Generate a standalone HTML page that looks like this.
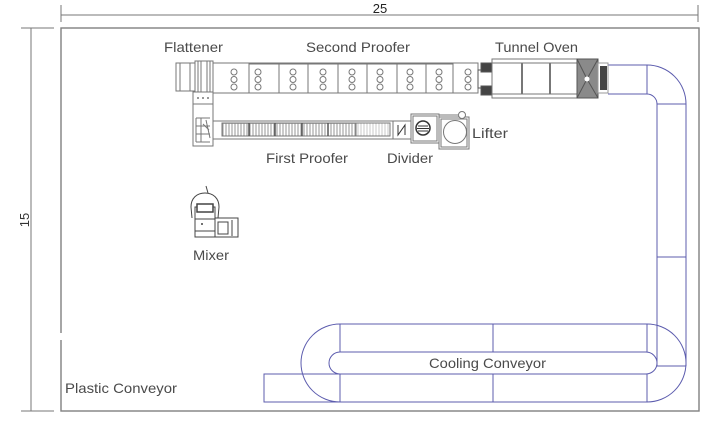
<!DOCTYPE html>
<html><head><meta charset="utf-8"><style>
html,body{margin:0;padding:0;background:#fff;}
svg{display:block;}
text{font-family:"Liberation Sans",sans-serif;fill:#4a4a4a;font-size:14px;}
</style></head><body>
<svg width="712" height="421" viewBox="0 0 712 421" xmlns="http://www.w3.org/2000/svg">
<defs>
<pattern id="grid" x="0" y="0" width="3" height="13" patternUnits="userSpaceOnUse">
<rect width="3" height="13" fill="#fff"/>
<line x1="1" y1="0" x2="1" y2="13" stroke="#888" stroke-width="0.9"/>
<line x1="0" y1="6.5" x2="3" y2="6.5" stroke="#999" stroke-width="0.6"/>
</pattern>
<pattern id="grid2" x="0" y="0" width="3" height="13" patternUnits="userSpaceOnUse">
<rect width="3" height="13" fill="#fff"/>
<line x1="1" y1="0" x2="1" y2="13" stroke="#bbb" stroke-width="0.8"/>
</pattern>
</defs>
<rect width="712" height="421" fill="#fff"/>

<!-- dimensions -->
<g stroke="#777" stroke-width="1" fill="none">
<line x1="61" y1="15" x2="698" y2="15"/>
<line x1="61" y1="5" x2="61" y2="22"/>
<line x1="698" y1="5" x2="698" y2="22"/>
<line x1="31" y1="28" x2="31" y2="411"/>
<line x1="21" y1="28" x2="54" y2="28"/>
<line x1="21" y1="411" x2="54" y2="411"/>
</g>
<text x="380" y="13" text-anchor="middle" style="font-size:13px;fill:#222">25</text>
<text transform="translate(29,220) rotate(-90)" text-anchor="middle" style="font-size:13px;fill:#333">15</text>

<!-- frame -->
<rect x="61" y="28" width="638" height="383" fill="none" stroke="#808080" stroke-width="1.4"/>
<line x1="61" y1="333" x2="61" y2="340" stroke="#fff" stroke-width="2"/>

<!-- conveyors (blue) -->
<g stroke="#5c5cae" stroke-width="1" fill="none">
<line x1="608" y1="65" x2="647" y2="65"/>
<line x1="608" y1="94" x2="647" y2="94"/>
<line x1="647" y1="65" x2="647" y2="94"/>
<path d="M647,65 A39,39 0 0 1 686,104"/>
<path d="M647,94 A10,10 0 0 1 657,104"/>
<line x1="657" y1="104" x2="686" y2="104"/>
<line x1="657" y1="104" x2="657" y2="366"/>
<line x1="686" y1="104" x2="686" y2="366"/>
<line x1="657" y1="257" x2="686" y2="257"/>
<line x1="657" y1="366" x2="686" y2="366"/>
<path d="M340,324 L647,324 A39,39 0 0 1 647,402 L340,402 A39,39 0 0 1 340,324 Z"/>
<rect x="329" y="352" width="328" height="22" rx="11" ry="11" fill="#fff"/>
<line x1="340" y1="324" x2="340" y2="352"/><line x1="340" y1="374" x2="340" y2="402"/>
<line x1="493" y1="324" x2="493" y2="352"/><line x1="493" y1="374" x2="493" y2="402"/>
<line x1="647" y1="324" x2="647" y2="352"/><line x1="647" y1="374" x2="647" y2="402"/>
<rect x="264" y="374" width="76" height="28"/>
</g>

<!-- equipment -->
<g stroke="#777" stroke-width="1" fill="none">
<rect x="213" y="63" width="265" height="30" fill="#fff"/>
<rect x="176" y="63" width="19" height="28" fill="#fff"/>
<line x1="180" y1="63" x2="180" y2="91"/>
<line x1="190" y1="63" x2="190" y2="91"/>
<rect x="195" y="61" width="18" height="31" fill="#fff"/>
<line x1="198" y1="61" x2="198" y2="92"/>
<line x1="201" y1="61" x2="201" y2="92"/>
<line x1="207" y1="61" x2="207" y2="92"/>
<line x1="210" y1="61" x2="210" y2="92"/>
<rect x="193" y="92" width="20" height="54" fill="#fff"/>
<line x1="193" y1="104" x2="213" y2="104"/>
<line x1="196" y1="118" x2="210" y2="118"/>
<line x1="196" y1="118" x2="196" y2="142"/>
<line x1="196" y1="142" x2="210" y2="142"/>
<line x1="196" y1="126" x2="210" y2="126"/>
<line x1="196" y1="134" x2="210" y2="134"/>
<line x1="201" y1="118" x2="201" y2="142"/>
<line x1="206" y1="120" x2="210" y2="138"/>
<line x1="203" y1="124" x2="209" y2="130"/>
<rect x="249" y="64" width="204" height="29"/>
<line x1="279" y1="64" x2="279" y2="93"/>
<line x1="308" y1="64" x2="308" y2="93"/>
<line x1="338" y1="64" x2="338" y2="93"/>
<line x1="367" y1="64" x2="367" y2="93"/>
<line x1="397" y1="64" x2="397" y2="93"/>
<line x1="426" y1="64" x2="426" y2="93"/>
</g>
<g fill="#777">
<circle cx="198" cy="98" r="1"/><circle cx="203" cy="98" r="1"/><circle cx="208" cy="98" r="1"/>
</g>
<g stroke="#777" stroke-width="1" fill="#fff">
<circle cx="234" cy="72" r="3"/><circle cx="234" cy="79.5" r="3"/><circle cx="234" cy="87" r="3"/>
<circle cx="258" cy="72" r="3"/><circle cx="258" cy="79.5" r="3"/><circle cx="258" cy="87" r="3"/>
<circle cx="293" cy="72" r="3"/><circle cx="293" cy="79.5" r="3"/><circle cx="293" cy="87" r="3"/>
<circle cx="323" cy="72" r="3"/><circle cx="323" cy="79.5" r="3"/><circle cx="323" cy="87" r="3"/>
<circle cx="352" cy="72" r="3"/><circle cx="352" cy="79.5" r="3"/><circle cx="352" cy="87" r="3"/>
<circle cx="380" cy="72" r="3"/><circle cx="380" cy="79.5" r="3"/><circle cx="380" cy="87" r="3"/>
<circle cx="410" cy="72" r="3"/><circle cx="410" cy="79.5" r="3"/><circle cx="410" cy="87" r="3"/>
<circle cx="439" cy="72" r="3"/><circle cx="439" cy="79.5" r="3"/><circle cx="439" cy="87" r="3"/>
<circle cx="468" cy="72" r="3"/><circle cx="468" cy="79.5" r="3"/><circle cx="468" cy="87" r="3"/>
</g>
<g stroke="#555" stroke-width="1">
<rect x="478" y="70" width="14" height="18" fill="#fff"/>
<rect x="481" y="63" width="11" height="9" fill="#444"/>
<rect x="481" y="86" width="11" height="9" fill="#444"/>
</g>
<g stroke="#777" stroke-width="1" fill="none">
<rect x="492" y="59" width="85" height="39" fill="#fff"/>
<line x1="492" y1="63" x2="577" y2="63"/>
<line x1="492" y1="94" x2="577" y2="94"/>
<line x1="522" y1="63" x2="522" y2="94" stroke-width="2"/>
<line x1="550" y1="63" x2="550" y2="94" stroke-width="2"/>
</g>
<rect x="577" y="59" width="21" height="39" fill="#8a8a8a" stroke="#555"/>
<path d="M577,59 L587,79 L598,59 M577,98 L587,79 L598,98" stroke="#555" fill="none"/>
<circle cx="587" cy="79" r="2.5" fill="#fff"/>
<rect x="598" y="63" width="10" height="30" fill="#fff" stroke="#999"/>
<rect x="600" y="66" width="7" height="24" fill="#444"/>

<!-- first proofer -->
<g stroke="#777" stroke-width="1" fill="none">
<rect x="213" y="121" width="180" height="18" fill="#fff"/>
<rect x="222" y="123" width="134" height="13" fill="url(#grid)"/>
<line x1="249" y1="123" x2="249" y2="136" stroke="#555" stroke-width="1.5"/>
<line x1="275" y1="123" x2="275" y2="136" stroke="#555" stroke-width="1.5"/>
<line x1="302" y1="123" x2="302" y2="136" stroke="#555" stroke-width="1.5"/>
<line x1="328" y1="123" x2="328" y2="136" stroke="#555" stroke-width="1.5"/>
<rect x="356" y="123" width="34" height="13" fill="url(#grid2)"/>
<rect x="393" y="121" width="18" height="18" fill="#fff"/>
<path d="M398,125 L398,135 L405,125 L405,135" stroke="#333"/>
<rect x="411" y="114" width="28" height="29" fill="#fff"/>
<rect x="413" y="116" width="24" height="25"/>
<rect x="439" y="117" width="30" height="32" fill="#fff"/>
<rect x="441" y="119" width="26" height="28"/>
<circle cx="455" cy="132" r="11.5"/>
<line x1="439" y1="115" x2="458" y2="115"/>
<circle cx="462" cy="115" r="3.5" fill="#fff"/>
</g>
<circle cx="423" cy="128" r="7" fill="#fff" stroke="#333" stroke-width="1.5"/>
<g stroke="#333" stroke-width="1">
<line x1="418" y1="126" x2="428" y2="126"/>
<line x1="417" y1="128.5" x2="429" y2="128.5"/>
<line x1="418" y1="131" x2="428" y2="131"/>
</g>

<!-- mixer -->
<g stroke="#444" stroke-width="1" fill="none">
<path d="M192,218 L191,207 C191,198 197,193 205,193 C213,193 219,198 219,207 L218,218"/>
<rect x="195" y="207" width="20" height="30" fill="#fff"/>
<rect x="197" y="204" width="16" height="8" fill="#fff" stroke-width="1.5"/>
<line x1="195" y1="219" x2="215" y2="219"/>
<line x1="195" y1="231" x2="215" y2="231"/>
<rect x="215" y="218" width="23" height="19" fill="#fff"/>
<rect x="218" y="222" width="10" height="12"/>
<line x1="232" y1="220" x2="232" y2="236"/>
<line x1="206" y1="186" x2="208" y2="193"/>
</g>
<circle cx="202" cy="224" r="1" fill="#444"/>

<!-- labels -->
<text x="164" y="52" textLength="59" lengthAdjust="spacingAndGlyphs">Flattener</text>
<text x="306" y="52" textLength="104" lengthAdjust="spacingAndGlyphs">Second Proofer</text>
<text x="495" y="52" textLength="83" lengthAdjust="spacingAndGlyphs">Tunnel Oven</text>
<text x="266" y="163" textLength="82" lengthAdjust="spacingAndGlyphs">First Proofer</text>
<text x="387" y="163" textLength="46" lengthAdjust="spacingAndGlyphs">Divider</text>
<text x="472" y="138" textLength="36" lengthAdjust="spacingAndGlyphs">Lifter</text>
<text x="193" y="260" textLength="36" lengthAdjust="spacingAndGlyphs">Mixer</text>
<text x="429" y="368" textLength="117" lengthAdjust="spacingAndGlyphs">Cooling Conveyor</text>
<text x="65" y="393" textLength="112" lengthAdjust="spacingAndGlyphs">Plastic Conveyor</text>
</svg>
</body></html>
